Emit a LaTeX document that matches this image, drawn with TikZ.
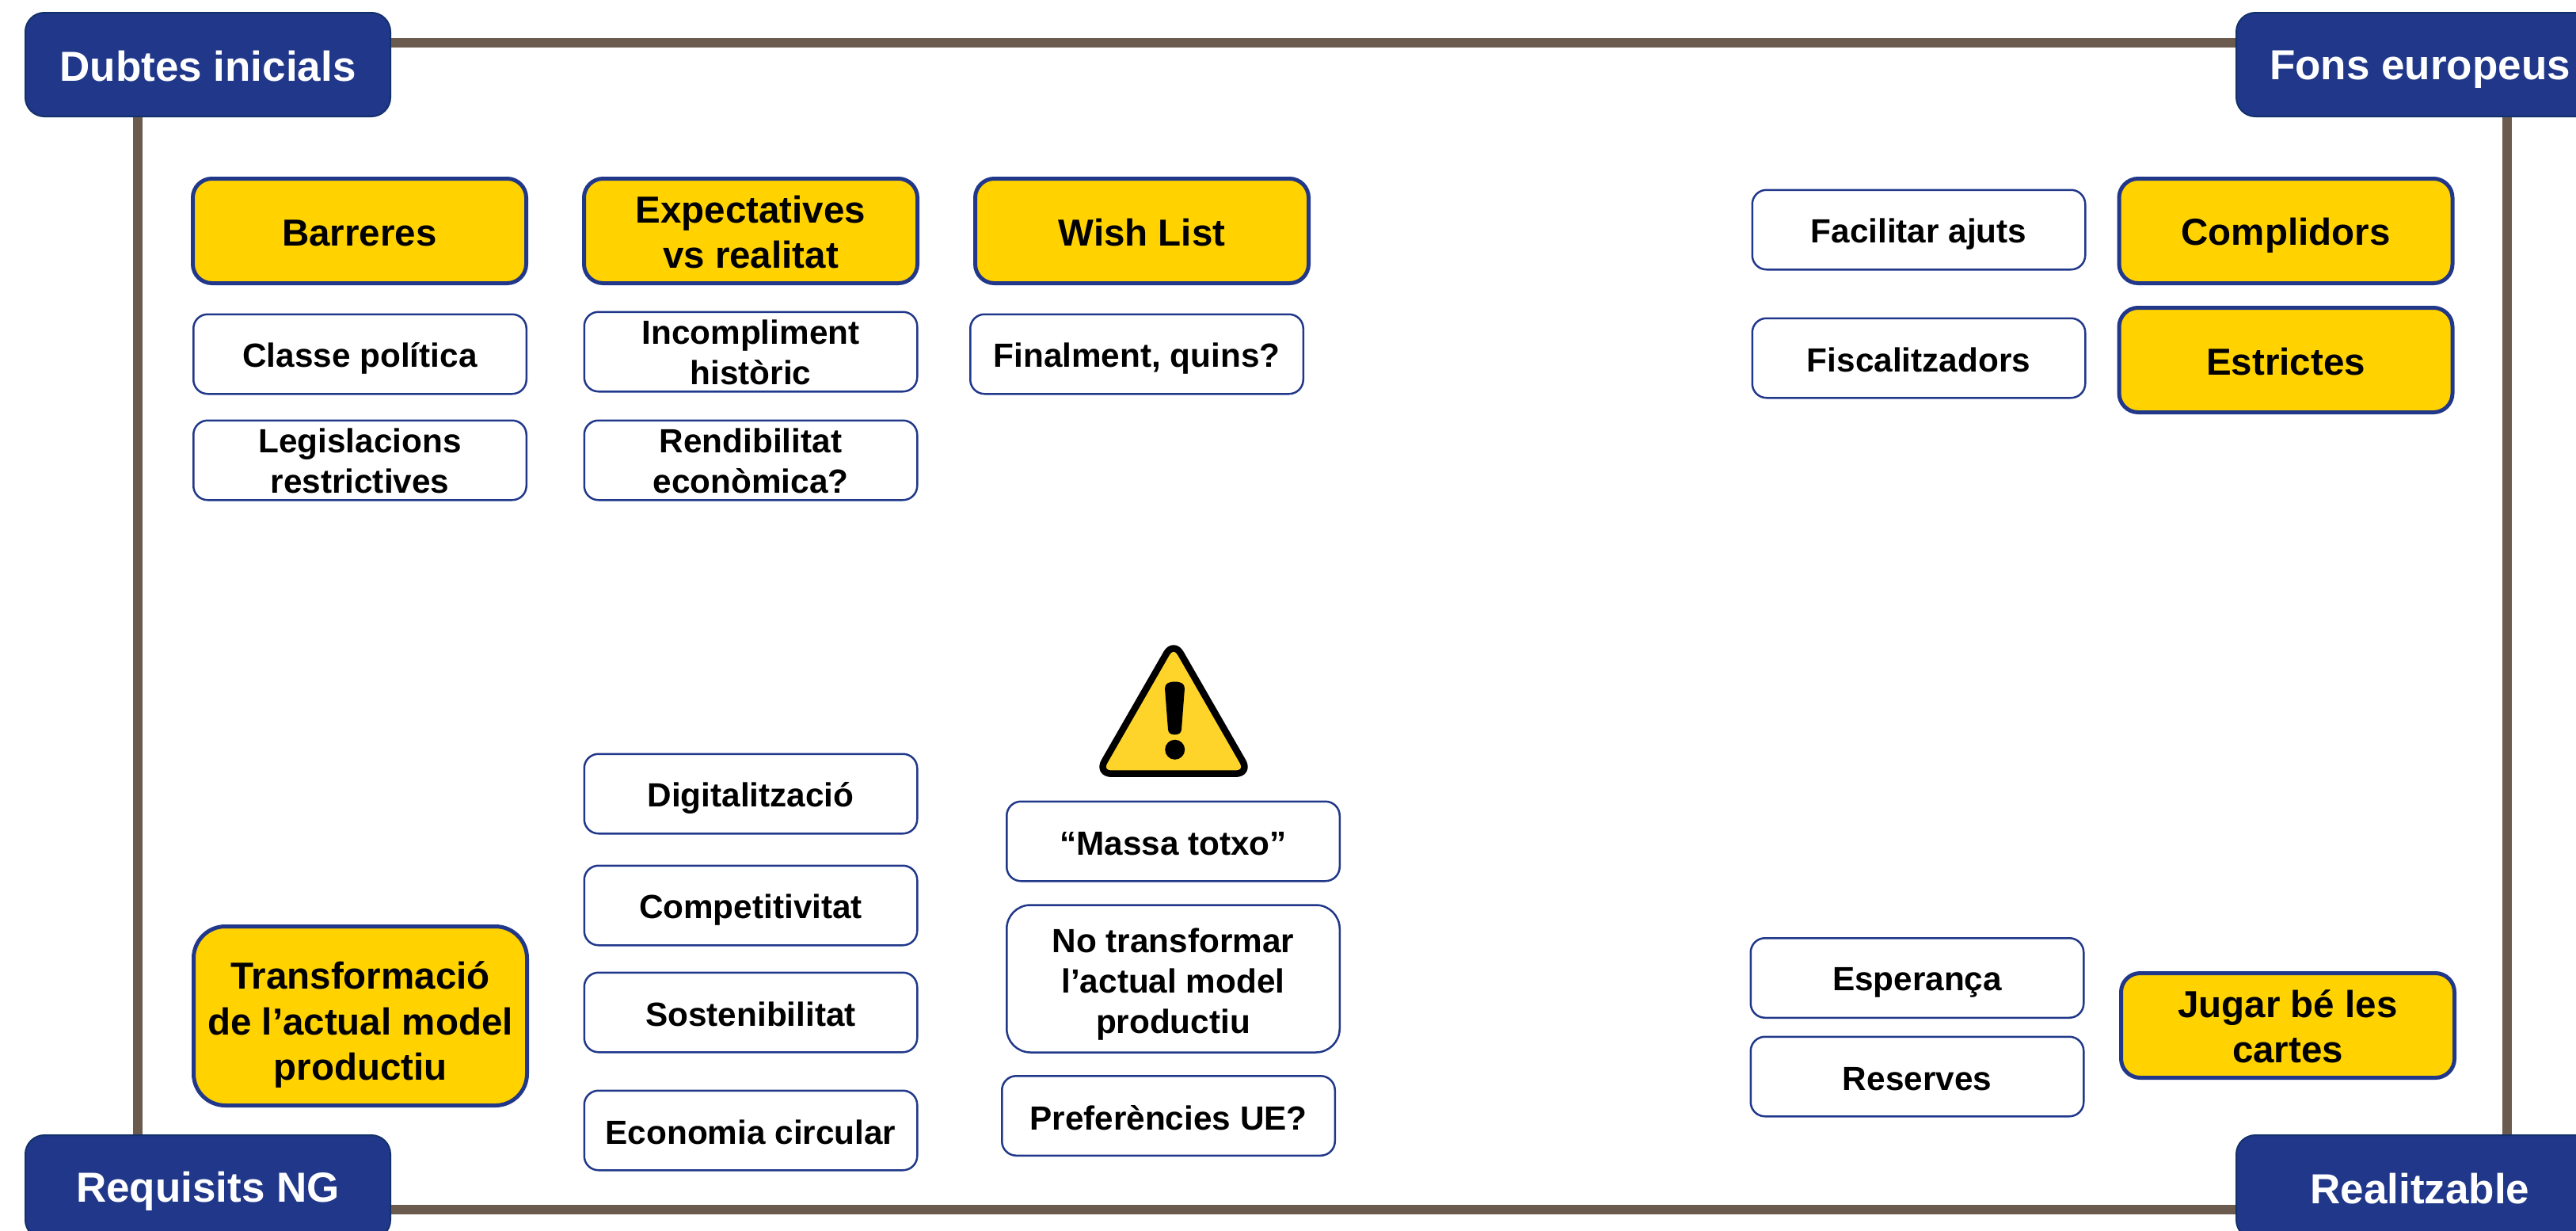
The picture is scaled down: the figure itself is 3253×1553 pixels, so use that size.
\documentclass[tikz,border=0pt]{standalone}
\usepackage{fontspec}
\setmainfont{Liberation Sans}
\definecolor{frameC}{HTML}{6B5B4E}
\definecolor{navyC}{HTML}{21388A}
\definecolor{navyD}{HTML}{12306B}
\definecolor{goldC}{HTML}{FFD200}
\definecolor{signC}{HTML}{FFD42A}
\newcommand{\rowsX}[2][6pt]{\raisebox{#1}[0pt][0pt]{\begin{tabular}{@{}c@{}}#2\end{tabular}}}
\tikzset{
  struts/.style={inner sep=0pt,
    execute at begin node={\vrule height #1em depth .15em width 0pt\relax},
    execute at end node={\vrule height #1em depth .15em width 0pt\relax}},
  corner/.style={struts=.93, draw=navyD, line width=2pt, fill=navyC, text=white, rounded corners=24pt,
    minimum width=461pt, minimum height=131pt, font=\fontsize{53}{64}\selectfont\bfseries},
  head/.style={struts=.96, draw=navyC, line width=5pt, fill=goldC, text=black, rounded corners=24pt,
    minimum width=421pt, minimum height=132pt, font=\fontsize{47.5}{57.5}\selectfont\bfseries},
  item/.style={struts=.98, draw=navyC, line width=2.5pt, fill=white, text=black, rounded corners=18pt,
    minimum width=420.5pt, minimum height=100.5pt, font=\fontsize{42.3}{51}\selectfont\bfseries},
  frameline/.style={draw=frameC, line width=12pt},
}
\begin{document}
\begin{tikzpicture}[x=1pt,y=-1pt]
\useasboundingbox (0,0) rectangle (3253,1553);
% corner nodes
\node[corner] (dubtes) at (262.5,81.5) {Dubtes inicials};
\node[corner] (fons) at (3054.5,81.5) {\hspace{3pt}Fons europeus};
\node[corner] (requisits) at (262.5,1498.5) {Requisits NG};
\node[corner] (realitzable) at (3054.5,1498.5) {\hspace{3pt}Realitzable};
% frame connectors
\draw[frameline] (dubtes.east |- 0,54) -- (fons.west |- 0,54);
\draw[frameline] (requisits.east |- 0,1527) -- (realitzable.west |- 0,1527);
\draw[frameline] (dubtes.south -| 174,0) -- (requisits.north -| 174,0);
\draw[frameline] (fons.south -| 3166,0) -- (realitzable.north -| 3166,0);
% yellow heads
\node[head] (barreres) at (454,291.5) {Barreres};
\node[head] (expect) at (948,291.5) {\rowsX{Expectatives\\vs realitat}};
\node[head] (wish) at (1442,291.5) {Wish List};
\node[head] (complidors) at (2886.5,291.5) {Complidors};
\node[head] (estrictes) at (2886.5,454.5) {Estrictes};
\node[head, minimum height=226pt, rounded corners=40pt] (transf) at (455,1282.5) {\rowsX[1pt]{Transformació\\de l’actual model\\productiu}};
\node[head] (jugar) at (2889,1294.5) {\rowsX{Jugar bé les\\cartes}};
% white items
\node[item] (classe) at (454.5,447) {Classe política};
\node[item] (legis) at (454.5,581) {\rowsX{Legislacions\\restrictives}};
\node[item] (incomp) at (948,444) {\rowsX{Incompliment\\històric}};
\node[item] (rendi) at (948,581) {\rowsX{Rendibilitat\\econòmica?}};
\node[item] (finalment) at (1435.5,447) {Finalment, quins?};
\node[item] (facilitar) at (2423,290) {Facilitar ajuts};
\node[item] (fiscal) at (2423,452) {Fiscalitzadors};
\node[item] (digital) at (948,1002) {Digitalització};
\node[item] (compet) at (948,1143) {Competitivitat};
\node[item] (sosten) at (948,1278) {Sostenibilitat};
\node[item] (econ) at (948,1427) {Economia circular};
\node[item] (massa) at (1481.5,1062) {“Massa totxo”};
\node[item, minimum height=186pt, rounded corners=30pt] (notransf) at (1481.5,1235.5) {\rowsX[4pt]{No transformar\\l’actual model\\productiu}};
\node[item] (prefer) at (1475.5,1408.5) {Preferències UE?};
\node[item] (esper) at (2421,1234.5) {Esperança};
\node[item] (reserves) at (2421,1359) {Reserves};
% warning sign
\draw[fill=signC, draw=black, line width=8.5pt, rounded corners=18pt, line join=round]
  (1482,809.3) -- (1578.3,976.7) -- (1385.7,976.7) -- cycle;
\fill[black] (1483.5,860.5) .. controls (1491,860.5) and (1496,863) .. (1496,869)
  -- (1492,921) .. controls (1491.5,925) and (1489,927.5) .. (1483.5,927.5)
  .. controls (1478,927.5) and (1475.5,925) .. (1475,921)
  -- (1471,869) .. controls (1471,863) and (1476,860.5) .. (1483.5,860.5) -- cycle;
\fill[black] (1483.7,946.3) circle (12.5pt);
\end{tikzpicture}
\end{document}
